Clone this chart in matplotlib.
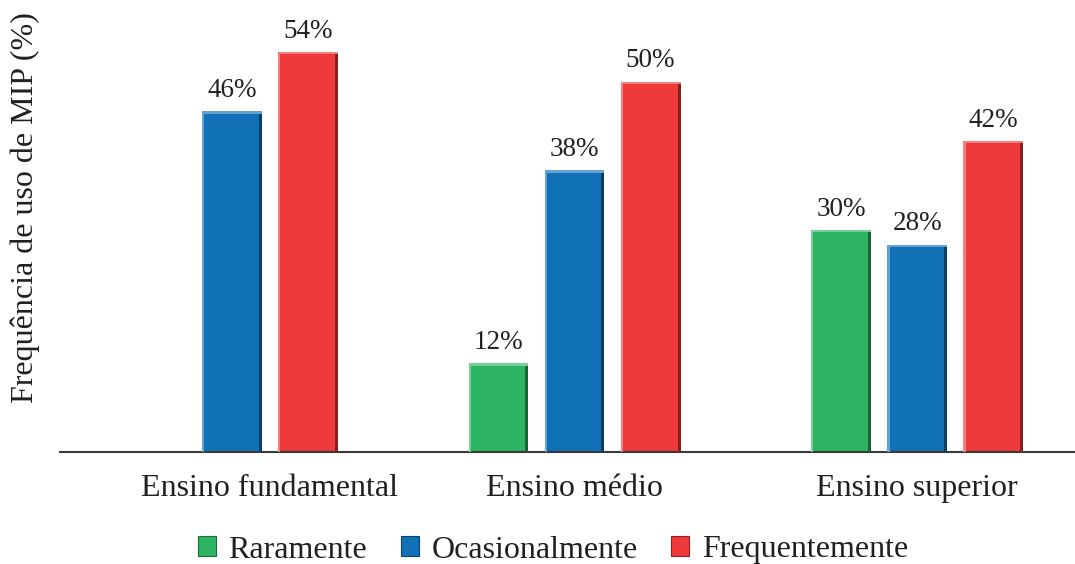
import numpy as np
import matplotlib.pyplot as plt
from matplotlib.patches import Rectangle, Patch
import matplotlib.colors as mcolors

plt.rcParams['font.family'] = ['Liberation Serif', 'DejaVu Serif']

niveis = ['Ensino fundamental', 'Ensino médio', 'Ensino superior']
raramente = [0, 12, 30]
ocasionalmente = [46, 38, 28]
frequentemente = [54, 50, 42]
series = ['Raramente', 'Ocasionalmente', 'Frequentemente']
cores = ['#2db463', '#1171b7', '#ee3a3a']

fig = plt.figure(figsize=(10.75, 5.64), dpi=100)
ax = fig.add_axes([60 / 1075, 1 - 452 / 564, 1 - 60 / 1075, 452 / 564])

x = np.arange(len(niveis))
desloc = 0.222
larg = 0.175


def bisel(ax, rect, cor):
    # bordas claras em cima/esquerda e escura na direita
    x0, y0 = rect.get_x(), rect.get_y()
    w, h = rect.get_width(), rect.get_height()
    if h <= 0:
        return
    rgb = np.array(mcolors.to_rgb(cor))
    claro = rgb + (1 - rgb) * 0.35
    escuro = rgb * 0.55
    bw = w * 0.05
    bh = 0.35
    ax.add_patch(Rectangle((x0 + w - bw, y0), bw, h, color=escuro, lw=0, zorder=3))
    ax.add_patch(Rectangle((x0, y0), bw * 0.8, h, color=claro, lw=0, zorder=3))
    ax.add_patch(Rectangle((x0, y0 + h - bh), w, bh, color=claro, lw=0, zorder=4))


for i, (vals, cor) in enumerate(zip([raramente, ocasionalmente, frequentemente], cores)):
    bars = ax.bar(x + (i - 1) * desloc, vals, larg, color=cor, lw=0, zorder=2)
    for b, v in zip(bars, vals):
        if v == 0:
            continue
        bisel(ax, b, cor)
        ax.text(b.get_x() + b.get_width() / 2, v + 1.1, f'{v}%',
                ha='center', va='bottom', fontsize=19.5, color='#231f20')

# rótulo centrado nas barras existentes de cada grupo
pos_rot = []
for j in range(len(niveis)):
    ps = [x[j] + (i - 1) * desloc for i, vals in
          enumerate([raramente, ocasionalmente, frequentemente]) if vals[j] > 0]
    pos_rot.append(np.mean(ps))

ax.set_xlim(-0.502, 2.461)
ax.set_ylim(0, 61)
ax.set_xticks(pos_rot)
ax.set_xticklabels(niveis, fontsize=23, color='#231f20')
ax.tick_params(axis='x', length=0, pad=16)
ax.set_yticks([])
for s in ['top', 'right', 'left']:
    ax.spines[s].set_visible(False)
ax.spines['bottom'].set_color('#3a3a3a')
ax.spines['bottom'].set_linewidth(1.5)

fig.text(25 / 1075, 1 - 208 / 564, 'Frequência de uso de MIP (%)', rotation=90,
         ha='center', va='center', fontsize=23, color='#231f20')

handles = [Patch(facecolor=c, edgecolor=mcolors.to_rgb(c) * np.array(0.6), lw=0.8) for c in cores]
fig.legend(handles, series, loc='center', bbox_to_anchor=(553 / 1075, 1 - 550 / 564),
           ncol=3, frameon=False, fontsize=23, handlelength=0.56, handleheight=0.56,
           handletextpad=0.4, columnspacing=1.05, labelcolor='#231f20')

fig.savefig('out.png', dpi=100)
